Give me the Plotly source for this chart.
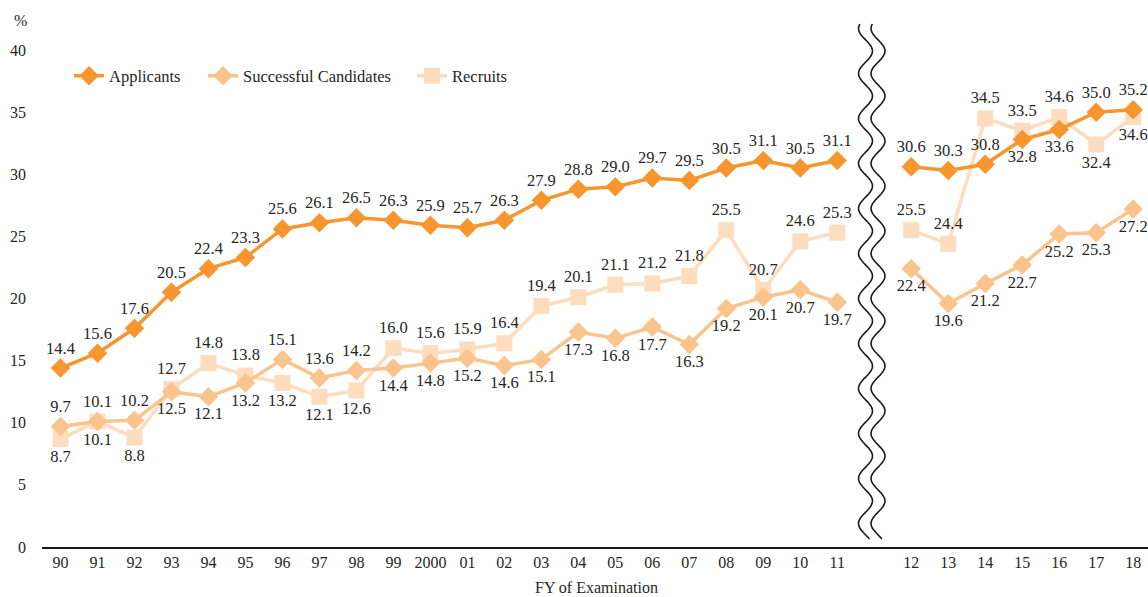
import numpy as np
import plotly.graph_objects as go

# Fiscal years of examination; the empty slot marks the break in the axis
years = ["90", "91", "92", "93", "94", "95", "96", "97", "98", "99", "2000",
         "01", "02", "03", "04", "05", "06", "07", "08", "09", "10", "11",
         None,
         "12", "13", "14", "15", "16", "17", "18"]

applicants = [14.4, 15.6, 17.6, 20.5, 22.4, 23.3, 25.6, 26.1, 26.5, 26.3, 25.9,
              25.7, 26.3, 27.9, 28.8, 29.0, 29.7, 29.5, 30.5, 31.1, 30.5, 31.1,
              None,
              30.6, 30.3, 30.8, 32.8, 33.6, 35.0, 35.2]

successful = [9.7, 10.1, 10.2, 12.5, 12.1, 13.2, 15.1, 13.6, 14.2, 14.4, 14.8,
              15.2, 14.6, 15.1, 17.3, 16.8, 17.7, 16.3, 19.2, 20.1, 20.7, 19.7,
              None,
              22.4, 19.6, 21.2, 22.7, 25.2, 25.3, 27.2]

recruits = [8.7, 10.1, 8.8, 12.7, 14.8, 13.8, 13.2, 12.1, 12.6, 16.0, 15.6,
            15.9, 16.4, 19.4, 20.1, 21.1, 21.2, 21.8, 25.5, 20.7, 24.6, 25.3,
            None,
            25.5, 24.4, 34.5, 33.5, 34.6, 32.4, 34.6]

# label placement: T = above, B = below
app_pos = ["T"] * 22 + [None] + ["T", "T", "T", "B", "B", "T", "T"]
suc_pos = (["T", "T", "T", "B", "B", "B", "T", "T", "T"] + ["B"] * 13
           + [None] + ["B", "B", "B", "B", "B", "B", "B"])
rec_pos = (["B", "B", "B", "T", "T", "T", "B", "B", "B"] + ["T"] * 13
           + [None] + ["T", "T", "T", "T", "T", "B", "B"])

POS = {"T": "top center", "B": "bottom center", None: "top center"}

xs = list(range(len(years)))
tick_idx = [i for i, y in enumerate(years) if y is not None]
tick_txt = [years[i] for i in tick_idx]

FONT = "Liberation Serif, Times New Roman, serif"
TXT = "#262626"

W, H = 1148, 597
L, R, T, B = 42, 0, 50, 50
pw, ph = W - L - R, H - T - B


def to_paper(px, py):
    return (px - L) / pw, (H - B - py) / ph


# each series gets its own legend box so the entries sit where intended
series = [
    ("Applicants", applicants, app_pos, "#F7952F", "diamond", 15, "legend", 69),
    ("Successful Candidates", successful, suc_pos, "#FBC48C", "diamond", 15, "legend2", 203),
    ("Recruits", recruits, rec_pos, "#FDDDBE", "square", 16, "legend3", 412),
]

fig = go.Figure()
for name, vals, pos, col, sym, size, lg, _ in reversed(series):
    fig.add_trace(go.Scatter(
        x=xs, y=vals, name=name, legend=lg,
        mode="lines+markers+text",
        line=dict(color=col, width=3.5),
        marker=dict(symbol=sym, size=size, color=col),
        text=[None if v is None else f"{v:.1f}" for v in vals],
        textposition=[POS[p] for p in pos],
        textfont=dict(family=FONT, size=16.5, color=TXT),
        connectgaps=False,
        cliponaxis=False,
        hoverinfo="skip",
    ))

legends = {}
for name, *_, lg, lx in series:
    legends[lg] = dict(orientation="h", x=to_paper(lx, 76)[0], y=to_paper(lx, 76)[1],
                       xanchor="left", yanchor="middle",
                       font=dict(family=FONT, size=16.5, color=TXT),
                       bgcolor="rgba(0,0,0,0)")

# axis break: two wavy vertical strokes in the gap between 11 and 12
shapes = []
for x0 in (865.5, 878.0):
    ys = np.linspace(24, 539, 240)
    xw = x0 - 7 * np.sin(2 * np.pi * (ys - 24) / 45 + np.pi / 2 * 0.6)
    pts = [to_paper(a, b) for a, b in zip(xw, ys)]
    d = "M " + " L ".join(f"{a:.5f},{b:.5f}" for a, b in pts)
    shapes.append(dict(type="path", path=d, xref="paper", yref="paper",
                       line=dict(color="#1a1a1a", width=1.6)))

fig.update_layout(
    width=W, height=H,
    margin=dict(l=L, r=R, t=T, b=B),
    paper_bgcolor="white", plot_bgcolor="white",
    font=dict(family=FONT, size=16, color=TXT),
    showlegend=True,
    shapes=shapes,
    xaxis=dict(range=[-0.5, 29.4], tickvals=tick_idx, ticktext=tick_txt,
               showgrid=False, zeroline=False, showline=True, linecolor="#1a1a1a",
               linewidth=2, ticks="", tickfont=dict(family=FONT, size=16, color=TXT)),
    yaxis=dict(range=[0, 40], dtick=5, showgrid=False, zeroline=False, showline=False,
               ticks="", ticklabelstandoff=15,
               tickfont=dict(family=FONT, size=16, color=TXT)),
    annotations=[
        dict(text="%", xref="paper", yref="paper", x=to_paper(20, 21)[0],
             y=to_paper(20, 21)[1], showarrow=False, xanchor="center", yanchor="middle",
             font=dict(family=FONT, size=16, color=TXT)),
        dict(text="FY of Examination", xref="paper", yref="paper", x=to_paper(596, 587)[0],
             y=to_paper(596, 587)[1], showarrow=False, xanchor="center", yanchor="middle",
             font=dict(family=FONT, size=16, color=TXT)),
    ],
    **legends,
)

fig.write_html("out.html")
